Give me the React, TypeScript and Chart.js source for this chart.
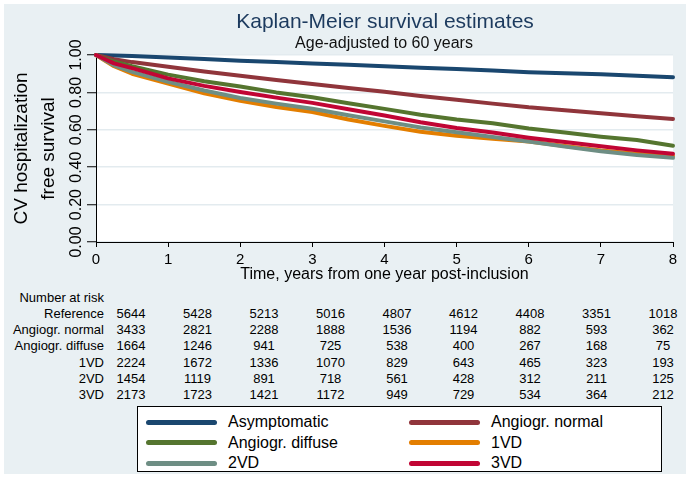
import React, { useEffect, useRef } from 'react';
import { Chart, registerables } from 'chart.js';

Chart.register(...registerables);

// ---- data ----
const years = [0, 0.25, 0.5, 1, 1.5, 2, 2.5, 3, 3.5, 4, 4.5, 5, 5.5, 6, 6.5, 7, 7.5, 8];
const asymptomatic = [1, 0.997, 0.994, 0.987, 0.978, 0.969, 0.962, 0.955, 0.948, 0.94, 0.932, 0.925, 0.917, 0.908, 0.903, 0.897, 0.889, 0.881];
const angioNormal = [1, 0.978, 0.962, 0.937, 0.912, 0.889, 0.866, 0.845, 0.824, 0.803, 0.781, 0.761, 0.74, 0.72, 0.705, 0.688, 0.673, 0.658];
const angioDiffuse = [1, 0.965, 0.94, 0.895, 0.86, 0.832, 0.8, 0.774, 0.742, 0.712, 0.68, 0.655, 0.635, 0.607, 0.585, 0.563, 0.545, 0.515];
const vd1 = [1, 0.94, 0.9, 0.847, 0.795, 0.755, 0.722, 0.695, 0.655, 0.621, 0.59, 0.568, 0.552, 0.537, 0.513, 0.49, 0.472, 0.46];
const vd2 = [1, 0.945, 0.91, 0.857, 0.81, 0.77, 0.74, 0.713, 0.678, 0.645, 0.612, 0.587, 0.562, 0.538, 0.51, 0.485, 0.465, 0.45];
const vd3 = [1, 0.955, 0.93, 0.875, 0.835, 0.802, 0.772, 0.744, 0.71, 0.676, 0.64, 0.61, 0.585, 0.558, 0.535, 0.512, 0.49, 0.472];

const seriesNames = ['Asymptomatic', 'Angiogr. normal', 'Angiogr. diffuse', '1VD', '2VD', '3VD'];
const seriesValues = [asymptomatic, angioNormal, angioDiffuse, vd1, vd2, vd3];
const seriesColors = ['#1a476f', '#90353b', '#55752f', '#e37e00', '#6e8e84', '#c10534'];
const drawOrder = [5, 4, 3, 2, 1, 0];

const xTickLabels = ['0', '1', '2', '3', '4', '5', '6', '7', '8'];
const yTickLabels = ['0.00', '0.20', '0.40', '0.60', '0.80', '1.00'];

const riskGroups = ['Reference', 'Angiogr. normal', 'Angiogr. diffuse', '1VD', '2VD', '3VD'];
const riskReference = [5644, 5428, 5213, 5016, 4807, 4612, 4408, 3351, 1018];
const riskNormal = [3433, 2821, 2288, 1888, 1536, 1194, 882, 593, 362];
const riskDiffuse = [1664, 1246, 941, 725, 538, 400, 267, 168, 75];
const risk1VD = [2224, 1672, 1336, 1070, 829, 643, 465, 323, 193];
const risk2VD = [1454, 1119, 891, 718, 561, 428, 312, 211, 125];
const risk3VD = [2173, 1723, 1421, 1172, 949, 729, 534, 364, 212];
const riskRows = [riskReference, riskNormal, riskDiffuse, risk1VD, risk2VD, risk3VD];

const FONT = '"Liberation Sans", Arial, Helvetica, sans-serif';

const plotBg = {
  id: 'plotBg',
  beforeDraw(chart: any) {
    const { ctx, chartArea } = chart;
    ctx.save();
    ctx.fillStyle = '#ffffff';
    ctx.fillRect(chartArea.left, chartArea.top, chartArea.right - chartArea.left, chartArea.bottom - chartArea.top);
    ctx.restore();
  },
};

function Txt(props: { x: number; y: number; align: 'left' | 'center' | 'right'; size: number; color?: string; children: any }) {
  const { x, y, align, size, color, children } = props;
  const tx = align === 'left' ? '0' : align === 'center' ? '-50%' : '-100%';
  return (
    <div
      style={{
        position: 'absolute',
        left: x,
        top: y,
        transform: `translate(${tx}, -50%)`,
        fontSize: size,
        lineHeight: 1,
        whiteSpace: 'nowrap',
        color: color || '#000',
        fontFamily: FONT,
      }}
    >
      {children}
    </div>
  );
}

export default function App() {
  const canvasRef = useRef<HTMLCanvasElement>(null);

  useEffect(() => {
    const chart = new Chart(canvasRef.current as HTMLCanvasElement, {
      type: 'line',
      data: {
        datasets: seriesNames.map((name, i) => ({
          label: name,
          data: years.map((t, j) => ({ x: t, y: seriesValues[i][j] })),
          borderColor: seriesColors[i],
          backgroundColor: seriesColors[i],
          borderWidth: 4,
          pointRadius: 0,
          tension: 0,
          order: drawOrder[i],
          borderCapStyle: 'round',
          borderJoinStyle: 'round',
          clip: 6,
        })),
      },
      options: {
        responsive: false,
        maintainAspectRatio: false,
        animation: false,
        layout: { padding: { top: 51, right: 13, bottom: 1, left: 0 } },
        plugins: {
          legend: { display: false },
          tooltip: { enabled: false },
          title: { display: false },
        },
        scales: {
          x: {
            type: 'linear',
            min: 0,
            max: 8,
            afterFit: (s: any) => {
              s.height = 42;
            },
            ticks: {
              stepSize: 1,
              autoSkip: false,
              maxRotation: 0,
              minRotation: 0,
              padding: 4,
              color: '#000',
              font: { family: FONT, size: 15 },
              callback: (_v: any, i: number) => xTickLabels[i],
            },
            grid: { drawOnChartArea: false, tickColor: '#000', tickLength: 5, tickWidth: 1 },
            border: { display: true, color: '#000', width: 1 },
            title: {
              display: true,
              text: 'Time, years from one year post-inclusion',
              color: '#000',
              font: { family: FONT, size: 16 },
              padding: { top: 0, bottom: 0 },
            },
          },
          y: {
            type: 'linear',
            min: 0,
            max: 1,
            afterFit: (s: any) => {
              s.width = 92;
            },
            ticks: {
              stepSize: 0.2,
              autoSkip: false,
              minRotation: 90,
              maxRotation: 90,
              crossAlign: 'center',
              align: 'end',
              padding: -13,
              color: '#000',
              font: { family: FONT, size: 16 },
              callback: (_v: any, i: number) => yTickLabels[i],
            },
            grid: { color: '#e3ebef', lineWidth: 1.5, tickColor: '#000', tickLength: 9, tickWidth: 1 },
            border: { display: true, color: '#000', width: 1 },
            title: {
              display: true,
              text: ['CV hospitalization', 'free survival'],
              color: '#000',
              font: { family: FONT, size: 19, lineHeight: 1.42 },
              padding: { top: 4, bottom: 0 },
            },
          },
        },
      } as any,
      plugins: [plotBg],
    });
    return () => chart.destroy();
  }, []);

  const colX = (i: number) => 131 + 66.5 * i;
  const rowY = (i: number) => 313 + 16.2 * i;

  const legendRows = [
    [0, 1],
    [2, 3],
    [4, 5],
  ];

  return (
    <div style={{ position: 'absolute', left: 0, top: 0, width: 690, height: 477, background: '#ffffff', overflow: 'hidden', fontFamily: FONT }}>
      <div style={{ position: 'absolute', left: 4, top: 4, width: 682, height: 470, background: '#e9f0f3' }} />
      <canvas ref={canvasRef} width={682} height={281} style={{ position: 'absolute', left: 4, top: 4, width: 682, height: 281 }} />

      <Txt x={385} y={20} align="center" size={21} color="#1c3a5e">Kaplan-Meier survival estimates</Txt>
      <Txt x={384} y={43} align="center" size={16} color="#111">Age-adjusted to 60 years</Txt>

      <Txt x={104} y={297} align="right" size={13}>Number at risk</Txt>
      {riskGroups.map((g, r) => (
        <React.Fragment key={g}>
          <Txt x={104} y={rowY(r)} align="right" size={13}>{g}</Txt>
          {riskRows[r].map((v, c) => (
            <Txt key={c} x={colX(c)} y={rowY(r)} align="center" size={13}>{String(v)}</Txt>
          ))}
        </React.Fragment>
      ))}

      <div style={{ position: 'absolute', left: 137, top: 406, width: 523, height: 64, background: '#fff', border: '1px solid #000' }} />
      {legendRows.map((pair, r) =>
        pair.map((si, c) => {
          const lx = c === 0 ? 146 : 409;
          const tx = c === 0 ? 228 : 491;
          const y = 422 + 20.5 * r;
          return (
            <React.Fragment key={si}>
              <div style={{ position: 'absolute', left: lx, top: y - 2.5, width: 71, height: 5, borderRadius: 3, background: seriesColors[si] }} />
              <Txt x={tx} y={y} align="left" size={16}>{seriesNames[si]}</Txt>
            </React.Fragment>
          );
        })
      )}
    </div>
  );
}
